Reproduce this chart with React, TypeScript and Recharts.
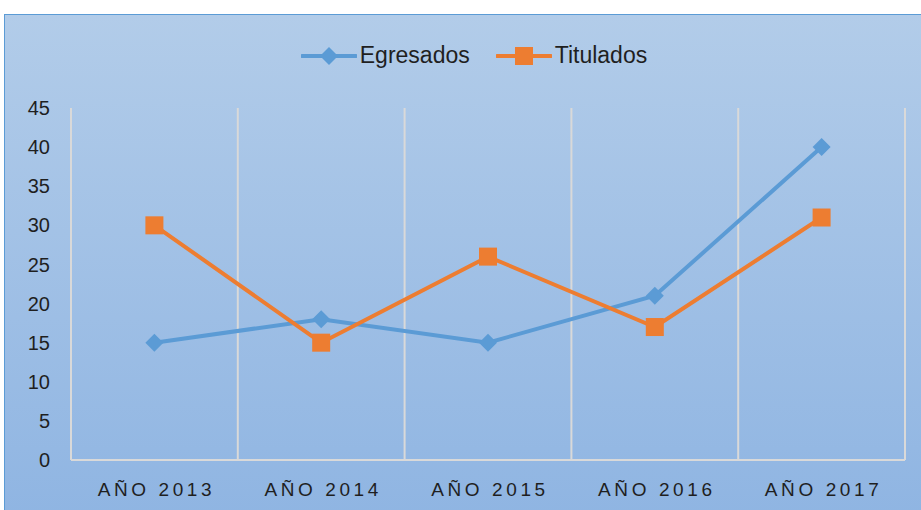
import React from 'react';
import { LineChart, Line, XAxis, YAxis, CartesianGrid, Legend } from 'recharts';

const years = ['AÑO 2013', 'AÑO 2014', 'AÑO 2015', 'AÑO 2016', 'AÑO 2017'];
const egresados = [15, 18, 15, 21, 40];
const titulados = [30, 15, 26, 17, 31];
const yTicks = [0, 5, 10, 15, 20, 25, 30, 35, 40, 45];

const BLUE = '#5b9bd5';
const ORANGE = '#ed7d31';
const FONT = '"Liberation Sans", Arial, sans-serif';

const data = years.map((year, i) => ({ year, egresados: egresados[i], titulados: titulados[i] }));

const Diamond = ({ cx, cy }: any) => {
    if (cx == null || cy == null) return null;
    const r = 9;
    return <path d={`M${cx},${cy - r}L${cx + r},${cy}L${cx},${cy + r}L${cx - r},${cy}Z`} fill={BLUE} />;
};

const Square = ({ cx, cy }: any) => {
    if (cx == null || cy == null) return null;
    const s = 18;
    return <rect x={cx - s / 2} y={cy - s / 2} width={s} height={s} fill={ORANGE} />;
};

const XTick = ({ x, y, payload }: any) => (
    <text x={x + 2} y={y} dy={36} textAnchor="middle" fill="#1f1f1f" fontSize={19} letterSpacing={3.6} fontFamily={FONT}>
        {payload.value}
    </text>
);

const LegendIcon = ({ color, kind }: { color: string; kind: string }) => (
    <svg width={56} height={24} style={{ display: 'block' }}>
        <line x1={1} y1={12} x2={55} y2={12} stroke={color} strokeWidth={4} strokeLinecap="round" />
        {kind === 'diamond' ? (
            <path d="M28,3L37,12L28,21L19,12Z" fill={color} />
        ) : (
            <rect x={19} y={3} width={18} height={18} fill={color} />
        )}
    </svg>
);

const renderLegend = () => (
    <div style={{ display: 'flex', justifyContent: 'center', alignItems: 'center', fontFamily: FONT, fontSize: 23, color: '#1f1f1f' }}>
        <div style={{ display: 'flex', alignItems: 'center', marginRight: 26 }}>
            <LegendIcon color={BLUE} kind="diamond" />
            <span style={{ marginLeft: 3 }}>Egresados</span>
        </div>
        <div style={{ display: 'flex', alignItems: 'center' }}>
            <LegendIcon color={ORANGE} kind="square" />
            <span style={{ marginLeft: 3 }}>Titulados</span>
        </div>
    </div>
);

export default function App() {
    return (
        <div style={{ position: 'absolute', left: 0, top: 0, width: 921, height: 510, overflow: 'hidden', background: '#fff' }}>
            <div
                style={{
                    position: 'absolute',
                    left: 4,
                    top: 14,
                    width: 940,
                    height: 520,
                    borderTop: '1.5px solid #5b9bd5',
                    borderLeft: '1.5px solid #5b9bd5',
                    background: 'linear-gradient(to bottom, #b2cce9, #8eb4e2)',
                }}
            />
            <div style={{ position: 'absolute', left: 0, top: 0 }}>
                <LineChart width={921} height={510} data={data} margin={{ top: 108, right: 16, bottom: 10, left: 0 }}>
                    <CartesianGrid
                        horizontal={false}
                        vertical
                        stroke="#d9d9d9"
                        strokeWidth={2}
                        verticalCoordinatesGenerator={({ offset }: any) =>
                            Array.from({ length: years.length + 1 }, (_, i) => offset.left + (i * offset.width) / years.length)
                        }
                    />
                    <XAxis
                        dataKey="year"
                        scale="band"
                        height={40}
                        tickLine={false}
                        tickSize={0}
                        tickMargin={0}
                        axisLine={{ stroke: '#d9d9d9', strokeWidth: 2 }}
                        tick={<XTick />}
                        interval={0}
                    />
                    <YAxis
                        domain={[0, 45]}
                        ticks={yTicks}
                        width={71}
                        axisLine={false}
                        tickLine={false}
                        tickSize={6}
                        tickMargin={15}
                        tick={{ fontSize: 20, fill: '#1f1f1f', fontFamily: FONT }}
                    />
                    <Legend verticalAlign="middle" align="center" wrapperStyle={{ top: 42, left: 0, width: 948 }} content={renderLegend} />
                    <Line
                        type="linear"
                        dataKey="egresados"
                        name="Egresados"
                        stroke={BLUE}
                        strokeWidth={4}
                        dot={<Diamond />}
                        activeDot={false}
                        isAnimationActive={false}
                    />
                    <Line
                        type="linear"
                        dataKey="titulados"
                        name="Titulados"
                        stroke={ORANGE}
                        strokeWidth={4}
                        dot={<Square />}
                        activeDot={false}
                        isAnimationActive={false}
                    />
                </LineChart>
            </div>
        </div>
    );
}
